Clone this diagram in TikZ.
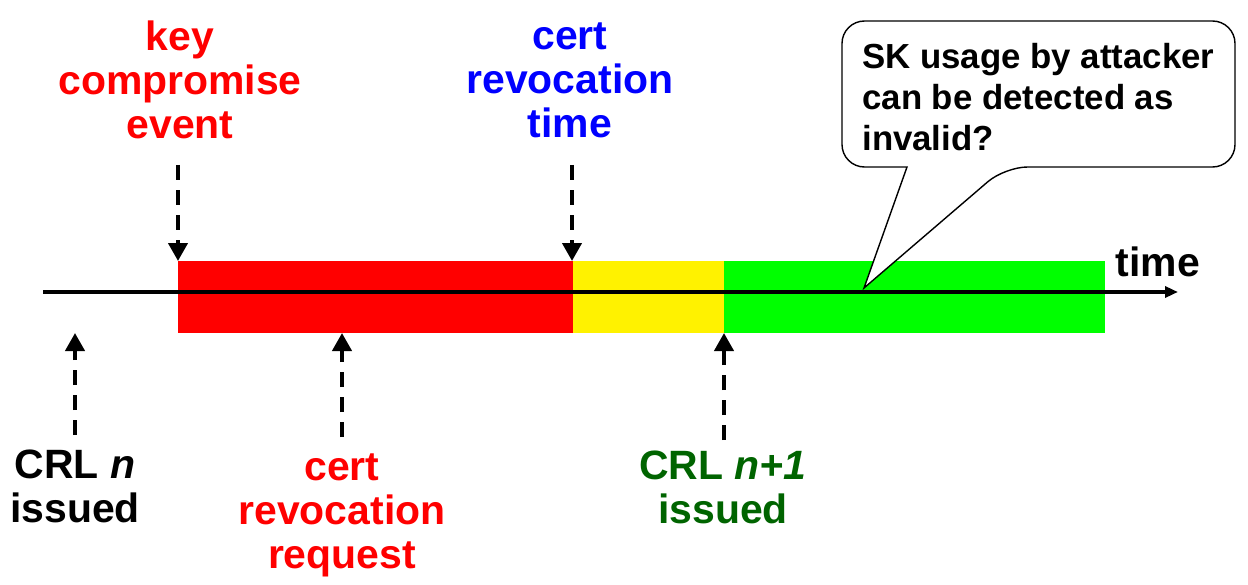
\documentclass[tikz,border=0pt]{standalone}
\usepackage{fontspec}
\setmainfont{Liberation Sans}
\usetikzlibrary{arrows.meta}

\definecolor{crlgreen}{RGB}{0,100,0}

\tikzset{
  lab/.style={align=center,inner sep=0pt,font=\fontsize{23.3}{25}\selectfont\bfseries},
  evt/.style={line width=2.3pt,dash pattern=on 0.3cm off 0.2cm,-{Triangle[width=0.38cm,length=0.36cm]}},
  axis/.style={line width=2pt,-{Triangle[width=0.22cm,length=0.26cm]}}
}

\begin{document}
\begin{tikzpicture}
\useasboundingbox (0,0) rectangle (24.96,11.68);
% coloured phases
\fill[red] (3.56,5.02) rectangle (11.46,6.46);
\fill[yellow] (11.46,5.02) rectangle (14.48,6.46);
\fill[green] (14.48,5.02) rectangle (22.10,6.46);
% time axis
\coordinate (t0) at (0.86,5.84);
\coordinate (t1) at (23.56,5.84);
\draw[axis] (t0) -- (t1);
\node[lab,anchor=center] (time) at (23.16,6.44) {time};
% events above the axis
\node[lab,red] (kce) at (3.60,10.08) {key\\compromise\\event};
\node[lab,blue] (crt) at (11.40,10.08) {cert\\revocation\\time};
\coordinate (kcetop) at (3.56,6.46);
\coordinate (crttop) at (11.44,6.46);
\draw[evt] (kcetop |- 0,8.38) -- (kcetop);
\draw[evt] (crttop |- 0,8.38) -- (crttop);
% events below the axis
\node[lab] (crln) at (1.50,1.95) {CRL \textit{n}\\issued};
\node[lab,red] (crq) at (6.84,1.38) {cert\\revocation\\request};
\node[lab,crlgreen] (crlm) at (14.46,1.93) {CRL \textit{n+1}\\issued};
\coordinate (crlnbot) at (1.50,5.02);
\coordinate (crqbot) at (6.84,5.02);
\coordinate (crlmbot) at (14.48,5.02);
\draw[evt] (crlnbot |- 0,2.98) -- (crlnbot);
\draw[evt] (crqbot |- 0,2.94) -- (crqbot);
\draw[evt] (crlmbot |- 0,2.88) -- (crlmbot);
% callout
\coordinate (tip) at (17.28,5.92);
\draw[fill=white,line width=0.8pt,rounded corners=0.45cm] (16.84,11.26) -- (24.70,11.26) -- (24.70,8.34)
  -- (20.10,8.34) [sharp corners] -- (tip) -- (18.14,8.34) [rounded corners=0.45cm] -- (16.84,8.34) -- cycle;
\node[lab,align=left,anchor=west,font=\fontsize{19.8}{23.5}\selectfont\bfseries] (q) at (17.24,9.74) {SK usage by attacker\\can be detected as\\invalid?};
\end{tikzpicture}
\end{document}
